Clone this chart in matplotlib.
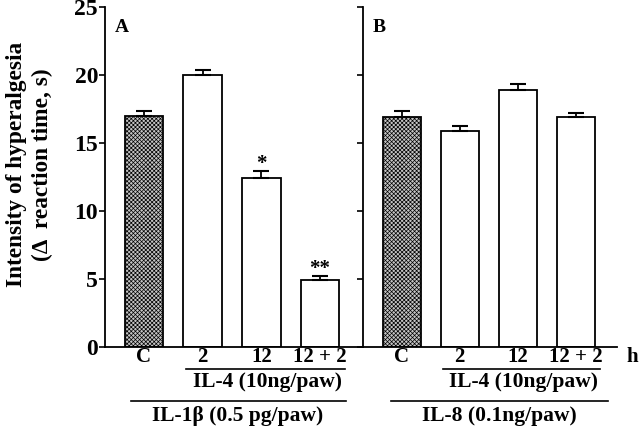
import numpy as np
import matplotlib
matplotlib.use("Agg")
import matplotlib.pyplot as plt

plt.rcParams['font.family'] = ['Liberation Serif', 'DejaVu Serif']
plt.rcParams['font.weight'] = 'bold'
plt.rcParams['hatch.linewidth'] = 0.5
plt.rcParams['hatch.color'] = '#7a7a7a'

## Data
groups = ['C', '2', '12', '12 + 2']
il1_mean = [17.0, 20.0, 12.45, 4.95]
il1_err = [0.4, 0.4, 0.5, 0.3]
il8_mean = [16.9, 15.9, 18.9, 16.9]
il8_err = [0.5, 0.35, 0.45, 0.3]
il1_stars = ['', '', '*', '**']

fig = plt.figure(figsize=(6.4, 4.28), dpi=100)
axA = fig.add_axes([0.164, 0.189, 0.403, 0.794])
axB = fig.add_axes([0.567, 0.189, 0.397, 0.794], sharey=axA)

x = np.arange(len(groups))


def draw_panel(ax, means, errs, stars, letter):
    colors = ['#c4c4c4'] + ['white'] * (len(means) - 1)
    hatches = ['xxxxxxxx'] + [''] * (len(means) - 1)
    bars = ax.bar(x, means, width=0.66, color=colors, edgecolor='black', linewidth=1.3)
    for b, h in zip(bars, hatches):
        b.set_hatch(h)
    ax.errorbar(x, means, yerr=[np.zeros(len(errs)), errs], fmt='none', ecolor='black',
                elinewidth=1.3, capsize=6, capthick=1.5)
    for xi, m, e, s in zip(x, means, errs, stars):
        if s:
            ax.annotate(s, (xi, m + e), xytext=(0, -2), textcoords='offset points',
                        ha='center', va='bottom', fontsize=15, fontweight='bold')
    ax.text(0.04, 0.965, letter, transform=ax.transAxes, ha='left', va='top',
            fontsize=14, fontweight='bold')
    ax.spines['top'].set_visible(False)
    ax.spines['right'].set_visible(False)
    ax.spines['left'].set_linewidth(1.3)
    ax.spines['bottom'].set_linewidth(1.3)
    ax.set_xticks(x)
    ax.set_xticklabels(groups, fontsize=15, fontweight='bold')
    ax.tick_params(axis='x', length=0, pad=0)
    ax.tick_params(axis='y', direction='out', length=4, width=1.2)


draw_panel(axA, il1_mean, il1_err, il1_stars, 'A')
draw_panel(axB, il8_mean, il8_err, [''] * 4, 'B')

axA.set_xlim(-0.664, 3.73)
axB.set_xlim(-0.67, 3.71)
axA.set_ylim(0, 25)
axA.set_yticks([0, 5, 10, 15, 20, 25])
for lab in axA.get_yticklabels():
    lab.set_fontsize(17)
    lab.set_fontweight('bold')
axA.tick_params(axis='y', pad=1)
plt.setp(axB.get_yticklabels(), visible=False)

axA.set_ylabel('Intensity of hyperalgesia\n(\u0394  reaction time, s)', fontsize=16.8,
               fontweight='bold', linespacing=1.3)
axA.yaxis.set_label_coords(-0.2, 0.537)

# group brackets under the axis
tA = axA.get_xaxis_transform()
tB = axB.get_xaxis_transform()
axA.plot([0.72, 3.42], [-0.0635, -0.0635], color='black', lw=1.2, transform=tA, clip_on=False)
axA.plot([-0.22, 3.45], [-0.158, -0.158], color='black', lw=1.2, transform=tA, clip_on=False)
axB.plot([0.71, 3.41], [-0.0635, -0.0635], color='black', lw=1.2, transform=tB, clip_on=False)
axB.plot([-0.19, 3.56], [-0.158, -0.158], color='black', lw=1.2, transform=tB, clip_on=False)

axA.text(2.1, -0.103, 'IL-4 (10ng/paw)', transform=tA, ha='center', va='center',
         fontsize=15.5, fontweight='bold')
axA.text(1.6, -0.203, 'IL-1\u03b2 (0.5 pg/paw)', transform=tA, ha='center', va='center',
         fontsize=15.5, fontweight='bold')
axB.text(2.1, -0.103, 'IL-4 (10ng/paw)', transform=tB, ha='center', va='center',
         fontsize=15.5, fontweight='bold')
axB.text(1.69, -0.203, 'IL-8 (0.1ng/paw)', transform=tB, ha='center', va='center',
         fontsize=15.5, fontweight='bold')
axB.text(1.06, -0.03, 'h', transform=axB.transAxes, ha='center', va='center',
         fontsize=15, fontweight='bold')

fig.savefig('out.png', dpi=100)
